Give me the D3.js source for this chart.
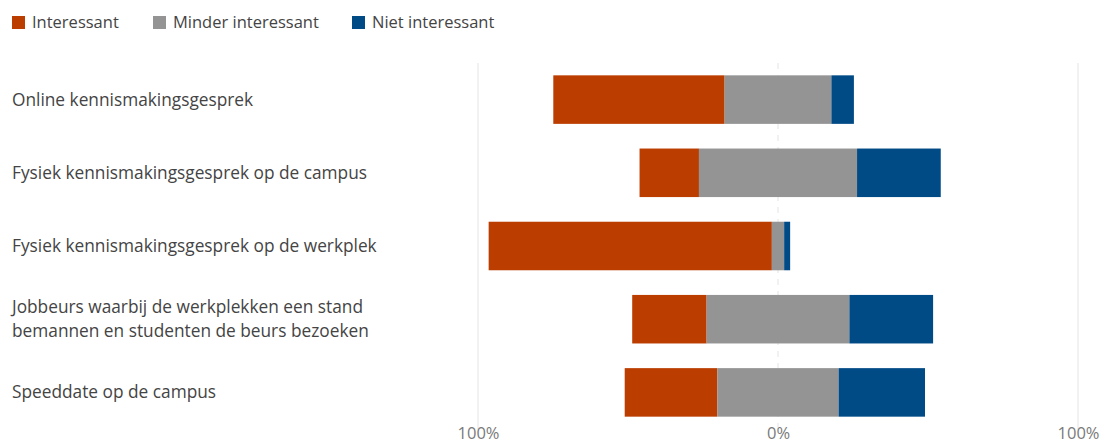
<!DOCTYPE html>
<html>
<head>
<meta charset="utf-8">
<script src="https://cdn.jsdelivr.net/npm/d3@7"></script>
<style>
  html, body { margin: 0; padding: 0; background: #fff; }
  svg { display: block; font-family: "Open Sans", "Noto Sans", sans-serif; }
</style>
</head>
<body>
<svg id="chart" width="1107" height="444"></svg>
<script>
// Survey answers per activity, in percent of respondents
const categories = [
  ["Online kennismakingsgesprek"],
  ["Fysiek kennismakingsgesprek op de campus"],
  ["Fysiek kennismakingsgesprek op de werkplek"],
  ["Jobbeurs waarbij de werkplekken een stand", "bemannen en studenten de beurs bezoeken"],
  ["Speeddate op de campus"]
];
const interessant       = [57.1, 19.8, 94.4, 24.8, 30.9];
const minderInteressant = [35.6, 52.7,  4.1, 47.6, 40.4];
const nietInteressant   = [ 7.5, 27.9,  2.0, 27.9, 28.8];
const seriesNames = ["Interessant", "Minder interessant", "Niet interessant"];
const seriesColors = ["#bb3d00", "#949494", "#004a86"];
const tickValues = [-100, 0, 100];
const tickLabels = ["100%", "0%", "100%"];

const svg = d3.select("#chart");
const margin = { top: 63, left: 478, right: 29, bottom: 15 };
const W = 1107, H = 444;

const x = d3.scaleLinear().domain([-100, 100]).range([margin.left, W - margin.right]);
const y = d3.scaleBand().domain(d3.range(categories.length))
  .range([margin.top, H - margin.bottom]).paddingInner(0.337).paddingOuter(0.1685);

// Gridlines
svg.append("g").selectAll("line").data(tickValues).join("line")
  .attr("x1", d => x(d)).attr("x2", d => x(d))
  .attr("y1", margin.top).attr("y2", H - margin.bottom)
  .attr("stroke", "#e4e4e4").attr("stroke-width", 1)
  .attr("stroke-dasharray", d => d === 0 ? "6,6" : null);

// Diverging stacks: the neutral segment is centred on zero
const rows = categories.map((c, i) => {
  const a = interessant[i], b = minderInteressant[i], n = nietInteressant[i];
  const start = -(a + b / 2);
  return [
    { s: 0, x0: start, x1: start + a, i },
    { s: 1, x0: start + a, x1: start + a + b, i },
    { s: 2, x0: start + a + b, x1: start + a + b + n, i }
  ];
});

svg.append("g").selectAll("rect").data(rows.flat()).join("rect")
  .attr("x", d => x(d.x0)).attr("width", d => x(d.x1) - x(d.x0))
  .attr("y", d => y(d.i)).attr("height", y.bandwidth())
  .attr("fill", d => seriesColors[d.s]);

// Axis labels
const axis = d3.axisBottom(x).tickValues(tickValues)
  .tickFormat((d, i) => tickLabels[i]).tickSize(0).tickPadding(0);
const ax = svg.append("g").attr("transform", `translate(0,${H - margin.bottom})`).call(axis);
ax.select(".domain").remove();
ax.selectAll("text").attr("fill", "#7a7a7a").style("font-size", "16.5px")
  .style("font-family", '"Open Sans", sans-serif').attr("y", 0).attr("dy", "0.58em");

// Category labels
const labels = svg.append("g").selectAll("text").data(categories).join("text")
  .attr("x", 12).attr("fill", "#444").style("font-size", "17.3px");
labels.each(function(lines, i) {
  const t = d3.select(this);
  const cy = y(i) + y.bandwidth() / 2;
  const lh = 24;
  lines.forEach((ln, k) => {
    t.append("tspan").attr("x", 12)
      .attr("y", cy + (k - (lines.length - 1) / 2) * lh)
      .attr("dy", "0.35em").text(ln);
  });
});

// Legend
const legendX = [12, 153, 352];
const lg = svg.append("g").selectAll("g").data(seriesNames).join("g")
  .attr("transform", (d, i) => `translate(${legendX[i]},16)`);
lg.append("rect").attr("width", 13).attr("height", 13).attr("fill", (d, i) => seriesColors[i]);
lg.append("text").attr("x", 20).attr("y", 6.5).attr("dy", "0.35em")
  .attr("fill", "#444").style("font-size", "16.5px").text(d => d);
</script>
</body>
</html>
